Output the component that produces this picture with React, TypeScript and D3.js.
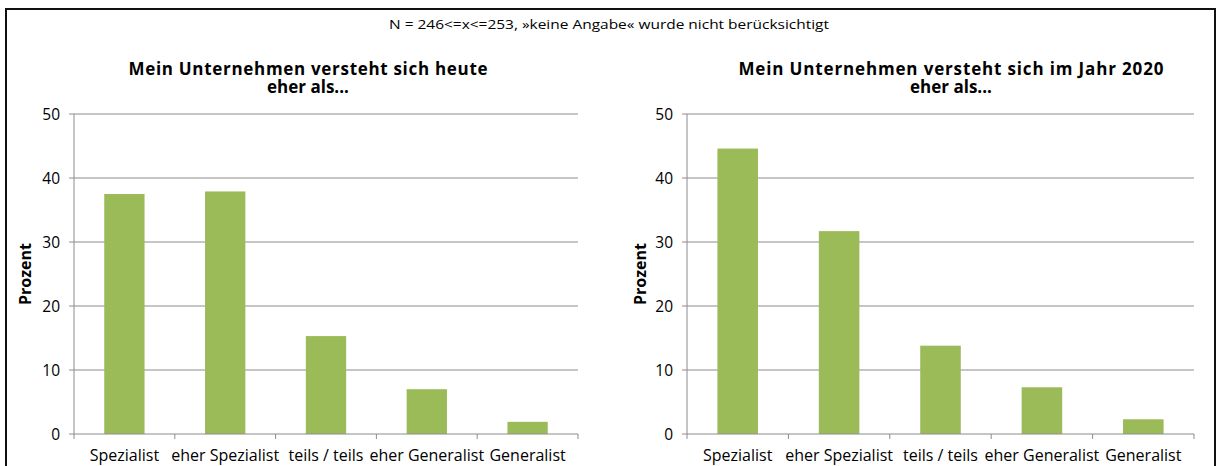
import React from "react";
import * as d3 from "d3";

const categories = ["Spezialist", "eher Spezialist", "teils / teils", "eher Generalist", "Generalist"];
const valuesToday = [37.5, 37.9, 15.3, 7.0, 1.9];
const values2020 = [44.6, 31.7, 13.8, 7.3, 2.3];
const yTicks = [0, 10, 20, 30, 40, 50];
const subtitle = "N = 246<=x<=253, »keine Angabe« wurde nicht berücksichtigt";
const titleToday = ["Mein Unternehmen versteht sich heute", "eher als..."];
const title2020 = ["Mein Unternehmen versteht sich im Jahr 2020", "eher als..."];

const W = 1219;
const H = 466;
const FONT = "'Open Sans', 'Noto Sans', sans-serif";
const BAR = "#9bbb59";
const GRID = "#8c8c8c";

type PanelProps = {
  values: number[];
  x0: number;
  x1: number;
  titleLines: string[];
  titleLength: number;
  titleX: number;
  labelX: number;
};

function Panel({ values, x0, x1, titleLines, titleLength, titleX, labelX }: PanelProps) {
  const y = d3.scaleLinear().domain([0, 50]).range([434, 114]);
  const x = d3.scaleBand<string>().domain(categories).range([x0, x1]).paddingInner(0).paddingOuter(0);
  const bw = x.bandwidth();
  const barW = bw * 0.4;
  const boundaries = categories.map((c) => x(c) as number).concat([x1]);
  return (
    <g>
      {titleLines.map((t, i) => (
        <text
          key={i}
          x={titleX}
          y={75 + i * 18}
          textAnchor="middle"
          fontFamily={FONT}
          fontWeight={700}
          fontSize={17}
          textLength={i === 0 ? titleLength : undefined}
          lengthAdjust={i === 0 ? "spacing" : undefined}
          fill="#000"
        >
          {t}
        </text>
      ))}
      {yTicks.map((t) => (
        <g key={t}>
          {t > 0 && <line x1={x0} x2={x1} y1={y(t)} y2={y(t)} stroke={GRID} strokeWidth={1} />}
          <line x1={x0 - 5} x2={x0} y1={y(t)} y2={y(t)} stroke={GRID} strokeWidth={1} />
          <text x={x0 - 14} y={y(t)} dy="0.36em" textAnchor="end" fontFamily={FONT} fontSize={15.5} fill="#000">
            {t}
          </text>
        </g>
      ))}
      {categories.map((c, i) => (
        <rect key={c} x={(x(c) as number) + (bw - barW) / 2} y={y(values[i])} width={barW} height={y(0) - y(values[i])} fill={BAR} />
      ))}
      <line x1={x0} x2={x0} y1={y(50)} y2={y(0)} stroke={GRID} strokeWidth={1} />
      <line x1={x0} x2={x1} y1={y(0)} y2={y(0)} stroke={GRID} strokeWidth={1} />
      {boundaries.map((b, i) => (
        <line key={i} x1={b} x2={b} y1={y(0)} y2={y(0) + 5} stroke={GRID} strokeWidth={1} />
      ))}
      {categories.map((c) => (
        <text key={c} x={(x(c) as number) + bw / 2} y={461} textAnchor="middle" fontFamily={FONT} fontSize={16} fill="#000">
          {c}
        </text>
      ))}
      <text
        transform={`translate(${labelX},${(y(0) + y(50)) / 2}) rotate(-90)`}
        textAnchor="middle"
        fontFamily={FONT}
        fontWeight={700}
        fontSize={16}
        fill="#000"
      >
        Prozent
      </text>
    </g>
  );
}

export default function App() {
  return (
    <svg width={W} height={H} style={{ position: "absolute", left: 0, top: 0, background: "#fff" }}>
      <rect x={0} y={0} width={W} height={H} fill="#fff" />
      <rect x={6} y={9} width={1209} height={480} fill="none" stroke="#111" strokeWidth={2} />
      <text x={609} y={29} textAnchor="middle" fontFamily={FONT} fontSize={13.5} textLength={440} lengthAdjust="spacingAndGlyphs" fill="#000">
        {subtitle}
      </text>
      <Panel values={valuesToday} x0={74} x1={578} titleLines={titleToday} titleLength={359} titleX={308} labelX={31} />
      <Panel values={values2020} x0={687} x1={1194} titleLines={title2020} titleLength={425} titleX={951} labelX={646} />
    </svg>
  );
}
